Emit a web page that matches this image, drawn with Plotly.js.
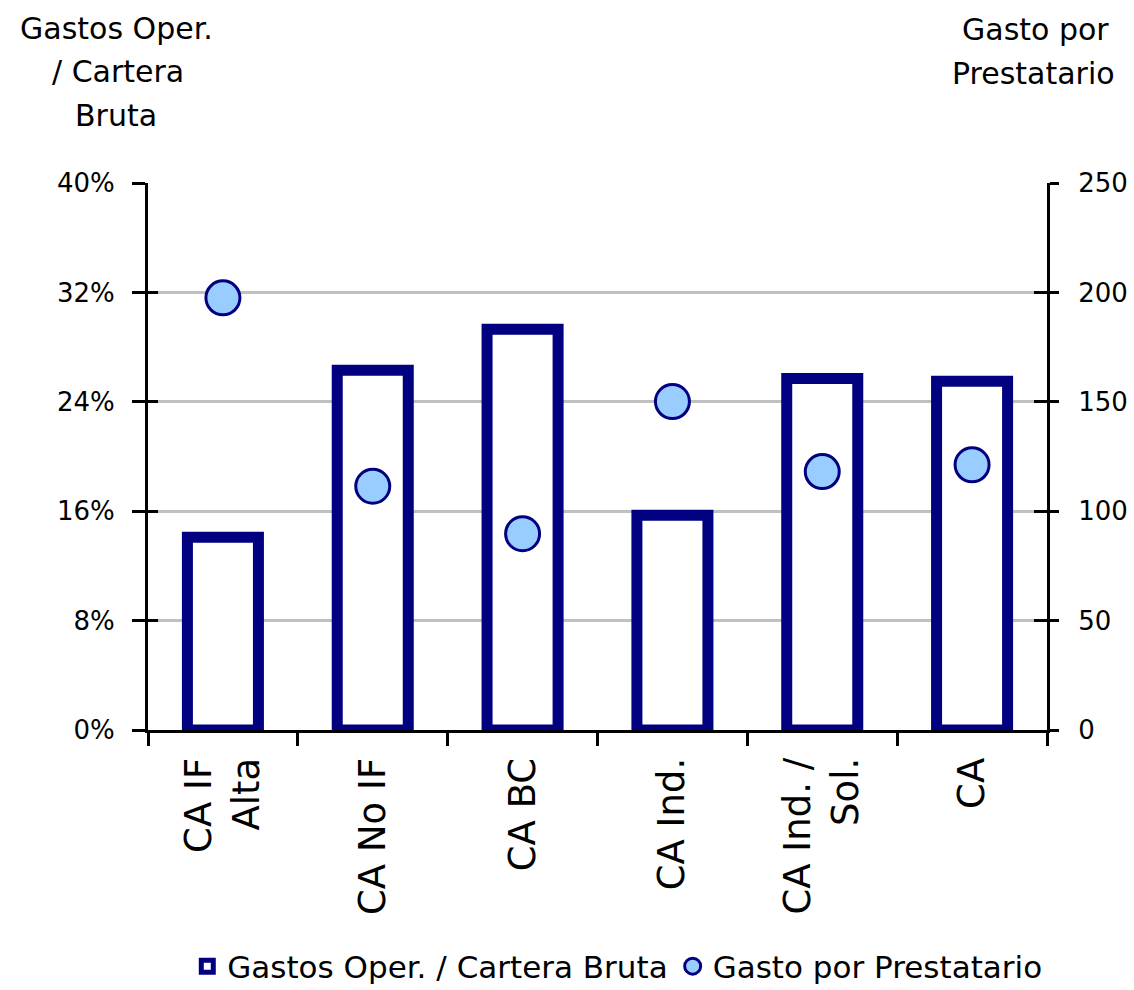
<!DOCTYPE html>
<html>
<head>
<meta charset="utf-8">
<script src="https://cdn.plot.ly/plotly-3.0.1.min.js"></script>
<style>html,body{margin:0;padding:0;background:#fff;}#chart{width:1134px;height:990px;}</style>
</head>
<body>
<div id="chart"></div>
<script>
const categories = ["CA IF<br>Alta", "CA No IF", "CA BC", "CA Ind.", "CA Ind. /<br>Sol.", "CA"];
const gastosOperCartera = [14.1, 26.3, 29.3, 15.7, 25.7, 25.5];
const gastoPorPrestatario = [197.5, 111.4, 89.7, 150.1, 118.1, 121.2];
const leftTicks = [0, 8, 16, 24, 32, 40];
const rightTicks = [0, 50, 100, 150, 200, 250];
const leftTickLabels = ["0%", "8%", "16%", "24%", "32%", "40%"];
const leftTitleLines = ["Gastos Oper.", "/ Cartera", "Bruta"];
const rightTitleLines = ["Gasto por", "Prestatario"];

const FONT = "DejaVu Sans, Arial, sans-serif";
const NAVY = "#000080";

const traces = [
  {
    type: "bar", name: "Gastos Oper. / Cartera Bruta",
    x: categories, y: gastosOperCartera, yaxis: "y", width: 0.474,
    marker: {color: "#ffffff", line: {color: NAVY, width: 11}},
    hoverinfo: "skip"
  },
  {
    type: "scatter", mode: "markers", name: "Gasto por Prestatario",
    x: categories, y: gastoPorPrestatario, yaxis: "y2",
    marker: {color: "#99CCFF", size: 34, line: {color: NAVY, width: 3}},
    hoverinfo: "skip"
  },
  {
    type: "scatter", mode: "markers", x: categories, y: gastosOperCartera, yaxis: "y3",
    marker: {opacity: 0}, showlegend: false, hoverinfo: "skip"
  },
  {
    type: "scatter", mode: "markers", x: categories, y: gastoPorPrestatario, yaxis: "y4",
    marker: {opacity: 0}, showlegend: false, hoverinfo: "skip"
  }
];

const titleAnn = (text, x, y) => ({
  text: text, xref: "paper", yref: "paper", x: x, y: y,
  xanchor: "center", yanchor: "middle", showarrow: false,
  font: {family: FONT, size: 30, color: "#000"}
});

const layout = {
  width: 1134, height: 990,
  margin: {l: 148, r: 87, t: 183, b: 260, autoexpand: false},
  paper_bgcolor: "#ffffff", plot_bgcolor: "#ffffff",
  font: {family: FONT, color: "#000000", size: 26},
  showlegend: true,
  legend: {
    orientation: "h", x: 0.522, xanchor: "center", y: -0.383, yanchor: "top",
    font: {family: FONT, size: 31, color: "#000"},
    tracegroupgap: 0
  },
  xaxis: {
    type: "category", showgrid: false, zeroline: false, automargin: false,
    showline: true, linecolor: "#000", linewidth: 3,
    ticks: "outside", ticklen: 13, tickwidth: 3, tickcolor: "#000",
    tickson: "boundaries", tickangle: -90, ticklabelstandoff: 10,
    tickfont: {family: FONT, size: 37, color: "#000"}
  },
  yaxis: {
    range: [0, 40], tickvals: leftTicks, ticktext: leftTickLabels, automargin: false,
    showgrid: true, gridcolor: "#C0C0C0", gridwidth: 3, zeroline: false,
    showline: true, linecolor: "#000", linewidth: 3,
    ticks: "outside", ticklen: 13, tickwidth: 3, tickcolor: "#000",
    tickfont: {family: FONT, size: 26, color: "#000"}, ticklabelstandoff: 12
  },
  yaxis2: {
    range: [0, 250], tickvals: rightTicks, overlaying: "y", side: "right", automargin: false,
    showgrid: false, zeroline: false,
    showline: true, linecolor: "#000", linewidth: 3,
    ticks: "outside", ticklen: 9, tickwidth: 3, tickcolor: "#000",
    tickfont: {family: FONT, size: 26, color: "#000"}, ticklabelstandoff: 14
  },
  yaxis3: {
    range: [0, 40], tickvals: leftTicks, overlaying: "y", side: "left", automargin: false,
    showgrid: false, zeroline: false, showline: false, showticklabels: false,
    ticks: "inside", ticklen: 10, tickwidth: 3, tickcolor: "#000"
  },
  yaxis4: {
    range: [0, 250], tickvals: rightTicks, overlaying: "y", side: "right", automargin: false,
    showgrid: false, zeroline: false, showline: false, showticklabels: false,
    ticks: "inside", ticklen: 13, tickwidth: 3, tickcolor: "#000"
  },
  annotations: [
    titleAnn(leftTitleLines[0], -0.0345, 1.283),
    titleAnn(leftTitleLines[1], -0.0335, 1.203),
    titleAnn(leftTitleLines[2], -0.0355, 1.124),
    titleAnn(rightTitleLines[0], 0.987, 1.280),
    titleAnn(rightTitleLines[1], 0.985, 1.201)
  ]
};

Plotly.newPlot("chart", traces, layout, {displayModeBar: false, staticPlot: true});
</script>
</body>
</html>
